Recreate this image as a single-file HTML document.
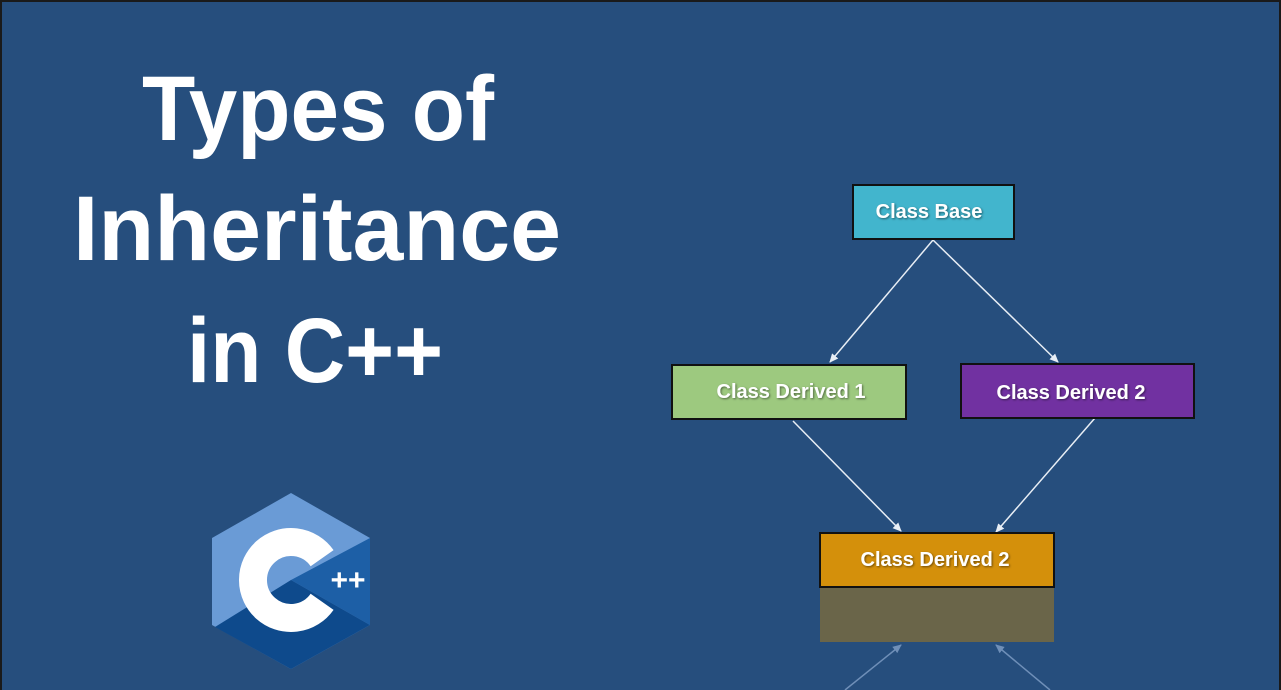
<!DOCTYPE html>
<html><head><meta charset="utf-8"><style>
html,body{margin:0;padding:0;}
body{width:1281px;height:690px;overflow:hidden;background:#1a1a1a;}
</style></head><body>
<svg width="1281" height="690" xmlns="http://www.w3.org/2000/svg" style="display:block">
<defs>
<marker id="ah" markerWidth="10" markerHeight="10" refX="8" refY="5" orient="auto" markerUnits="userSpaceOnUse">
<path d="M0,1 L9,5 L0,9 z" fill="#e8eef5"/></marker>
<marker id="ah2" markerWidth="10" markerHeight="10" refX="8" refY="5" orient="auto" markerUnits="userSpaceOnUse">
<path d="M0,1 L9,5 L0,9 z" fill="#6f8fb8"/></marker>
<filter id="ts" x="-10%" y="-30%" width="120%" height="160%"><feDropShadow dx="1" dy="1" stdDeviation="1" flood-color="#000" flood-opacity="0.5"/></filter>
</defs>
<rect x="2" y="2" width="1277" height="688" fill="#264e7d"/>
<g font-family="Liberation Sans, sans-serif" font-weight="bold" fill="#fff" font-size="92" text-anchor="middle">
<text x="318" y="140" textLength="352" lengthAdjust="spacingAndGlyphs">Types of</text>
<text x="317" y="260" textLength="488" lengthAdjust="spacingAndGlyphs">Inheritance</text>
<text x="315" y="382" textLength="256" lengthAdjust="spacingAndGlyphs">in C++</text>
</g>
<!-- logo -->
<polygon points="291,493 370,538 370,625 291,669 212,625 212,538" fill="#6a9bd6"/>
<polygon points="370,538 370,625 291,580" fill="#1d5fa6"/>
<polygon points="291,580 370,625 291,669 215,627" fill="#0e4a8c"/>
<path d="M322.1,558.2 A38,38 0 1,0 322.1,601.8" fill="none" stroke="#fff" stroke-width="28"/>
<text x="348" y="590" font-family="Liberation Sans, sans-serif" font-weight="bold" font-size="30" fill="#fff" text-anchor="middle">++</text>
<!-- connectors -->
<g stroke="#e8eef5" stroke-width="1.5">
<line x1="933" y1="240" x2="830" y2="362" marker-end="url(#ah)"/>
<line x1="933" y1="240" x2="1058" y2="362" marker-end="url(#ah)"/>
<line x1="793" y1="421" x2="901" y2="531" marker-end="url(#ah)"/>
<line x1="1095" y1="418" x2="996" y2="532" marker-end="url(#ah)"/>
</g>
<g stroke="#6f8fb8" stroke-width="1.5">
<line x1="845" y1="690" x2="901" y2="645" marker-end="url(#ah2)"/>
<line x1="1050" y1="690" x2="996" y2="645" marker-end="url(#ah2)"/>
</g>
<!-- boxes -->
<g stroke="#111" stroke-width="2">
<rect x="853" y="185" width="161" height="54" fill="#42b5cd"/>
<rect x="672" y="365" width="234" height="54" fill="#9dc97f"/>
<rect x="961" y="364" width="233" height="54" fill="#7131a1"/>
<rect x="820" y="533" width="234" height="54" fill="#d4900b"/>
</g>
<rect x="820" y="588" width="234" height="54" fill="#6a6549"/>
<g font-family="Liberation Sans, sans-serif" font-weight="bold" fill="#fff" font-size="20" text-anchor="middle" filter="url(#ts)">
<text x="929" y="218">Class Base</text>
<text x="791" y="398">Class Derived 1</text>
<text x="1071" y="399">Class Derived 2</text>
<text x="935" y="566">Class Derived 2</text>
</g>
</svg>
</body></html>
